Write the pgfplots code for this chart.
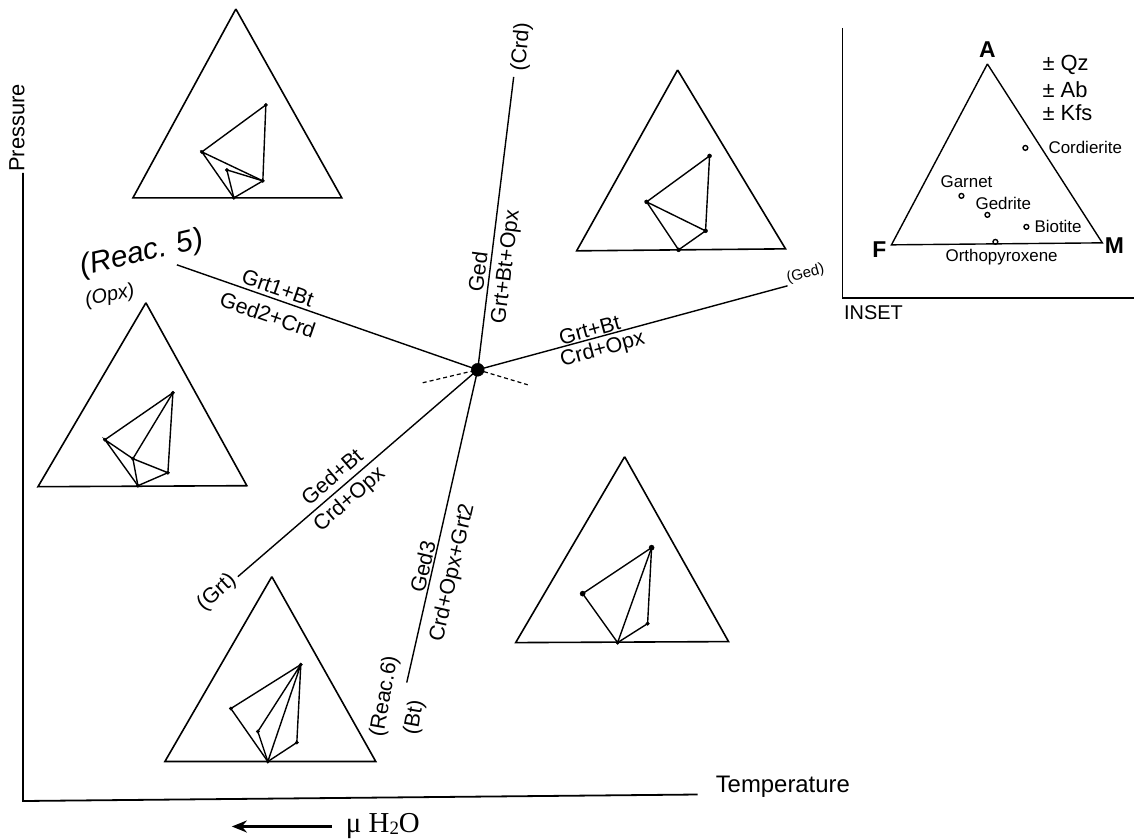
\documentclass[border=0pt]{standalone}
\usepackage{pgfplots}
\pgfplotsset{compat=1.18}
\usepackage{fontspec}
\setmainfont{Liberation Sans}
\newfontfamily\seriffont{Liberation Serif}
\usetikzlibrary{arrows.meta}
\newcommand{\fs}[1]{\fontsize{#1}{#1}\selectfont}
\begin{document}
\begin{tikzpicture}
\begin{axis}[x=1bp, y=1bp, y dir=reverse, xmin=0, xmax=1135, ymin=0, ymax=837,
  hide axis, clip=false, scale only axis]
\addplot[draw=none] coordinates {(0,0) (1135,837)};
% frame axes
\addplot[line width=1.8bp, black] coordinates {(23,173) (23,801.5) (698,795)};
\addplot[line width=1.4bp, black] coordinates {(843,28) (843,298) (1135,298)};
% triangle 1
\addplot[line width=1.6bp] coordinates {(236,9) (133,198) (342,198) (236,9)};
\addplot[line width=1.4bp] coordinates {(202,152) (266,105) (263,181) (202,152) (234,198) (263,181)};
\addplot[line width=1.4bp] coordinates {(263,181) (227,170) (234,198)};
\addplot[only marks, mark=*, mark size=1.7bp] coordinates {(202,152) (266,105) (263,181) (227,170) (234,198)};
% triangle 2
\addplot[line width=1.6bp] coordinates {(678,70) (577,251) (786,249) (678,70)};
\addplot[line width=1.4bp] coordinates {(647,202) (710,156) (706,231) (647,202) (679,250) (706,231)};
\addplot[only marks, mark=*, mark size=2bp] coordinates {(647,202) (710,156) (706,231) (679,250)};
% triangle 3
\addplot[line width=1.6bp] coordinates {(146,303) (38,487) (247,486) (146,303)};
\addplot[line width=1.4bp] coordinates {(105,440) (173,393) (168,473) (138,486) (105,440) (133,459) (168,473)};
\addplot[line width=1.4bp] coordinates {(173,393) (133,459) (138,486)};
\addplot[only marks, mark=*, mark size=1.7bp] coordinates {(105,440) (173,393) (168,473) (138,486) (133,459)};
% triangle 4
\addplot[line width=1.6bp] coordinates {(625,457) (516,643) (729,642) (625,457)};
\addplot[line width=1.4bp] coordinates {(583,594) (652,548) (648,624) (618,643) (583,594)};
\addplot[line width=1.4bp] coordinates {(652,548) (618,643)};
\addplot[only marks, mark=*, mark size=2.6bp] coordinates {(583,594) (652,548)};
\addplot[only marks, mark=*, mark size=1.8bp] coordinates {(648,624) (618,643)};
% triangle 5
\addplot[line width=1.6bp] coordinates {(272,577) (165,762) (376,762) (272,577)};
\addplot[line width=1.4bp] coordinates {(231,709) (301,665) (297,743) (268,762) (231,709)};
\addplot[line width=1.4bp] coordinates {(301,665) (258,732) (268,762) (301,665)};
\addplot[only marks, mark=*, mark size=1.7bp] coordinates {(231,709) (301,665) (297,743) (258,732) (268,762)};
% inset triangle
\addplot[line width=1.4bp] coordinates {(988,64) (892,245) (1103,243) (988,64)};
\addplot[only marks, mark=o, mark size=2.4bp, line width=1.4bp] coordinates {(1026,148) (962,196) (988,215) (1027,227) (996,242)};
% reaction lines
\addplot[line width=1.4bp] coordinates {(177,265) (478,370)};
\addplot[line width=1.4bp] coordinates {(514,77) (478,370)};
\addplot[line width=1.4bp] coordinates {(788,286) (478,370)};
\addplot[line width=1.4bp] coordinates {(238,577) (478,370)};
\addplot[line width=1.4bp] coordinates {(407,683) (478,370)};
\addplot[line width=1.2bp, dash pattern=on 4bp off 3bp] coordinates {(423,383) (478,370) (528,385)};
\addplot[only marks, mark=*, mark size=6.5bp] coordinates {(478,370)};
% arrow
\addplot[line width=2.4bp, -{Stealth[length=15bp,width=12bp]}] coordinates {(332,827) (232,827)};
\end{axis}
\begin{axis}[x=1bp, y=1bp, y dir=reverse, xmin=0, xmax=1135, ymin=0, ymax=837,
  hide axis, clip=false, scale only axis]
\addplot[draw=none] coordinates {(0,0) (1135,837)};
\node[inner sep=0pt, rotate=90, font=\fs{22}] at (axis cs:17,128) {Pressure};
\node[inner sep=0pt, anchor=west, font=\fs{24}] at (axis cs:716,787) {Temperature};
\node[inner sep=0pt, anchor=west, font=\seriffont\fs{29}] at (axis cs:346,827) {μ H\raisebox{-0.15ex}{\fs{19}2}O};
% reaction labels
\node[inner sep=0pt, rotate=13, font=\itshape\fs{30}] at (axis cs:142,254) {(Reac. 5)};
\node[inner sep=0pt, rotate=12, font=\itshape\fs{20}] at (axis cs:110,296) {(Opx)};
\node[inner sep=0pt, rotate=-19.2, font=\fs{21.5}] at (axis cs:278,288) {Grt1+Bt};
\node[inner sep=0pt, rotate=-19.2, font=\fs{21.5}] at (axis cs:268,315) {Ged2+Crd};
\node[inner sep=0pt, rotate=83, font=\fs{21.5}] at (axis cs:478,272) {Ged};
\node[inner sep=0pt, rotate=83, font=\fs{21.5}] at (axis cs:507,267) {Grt+Bt+Opx};
\node[inner sep=0pt, rotate=85, font=\fs{21.5}] at (axis cs:522,47) {(Crd)};
\node[inner sep=0pt, rotate=15.2, font=\fs{21.5}] at (axis cs:590,330) {Grt+Bt};
\node[inner sep=0pt, rotate=15.2, font=\fs{21.5}] at (axis cs:603,350) {Crd+Opx};
\node[inner sep=0pt, rotate=15.2, font=\fs{15}] at (axis cs:806,274) {(Ged)};
\node[inner sep=0pt, rotate=40.8, font=\fs{21.5}] at (axis cs:332,477) {Ged+Bt};
\node[inner sep=0pt, rotate=40.8, font=\fs{21.5}] at (axis cs:350,500) {Crd+Opx};
\node[inner sep=0pt, rotate=42, font=\fs{21.5}] at (axis cs:217,593) {(Grt)};
\node[inner sep=0pt, rotate=77.2, font=\fs{21.5}] at (axis cs:423,567) {Ged3};
\node[inner sep=0pt, rotate=77.2, font=\fs{21.5}] at (axis cs:453,573) {Crd+Opx+Grt2};
\node[inner sep=0pt, rotate=80, font=\fs{21.5}] at (axis cs:385,697) {(Reac.6)};
\node[inner sep=0pt, rotate=80, font=\fs{21.5}] at (axis cs:415,718) {(Bt)};
% inset labels
\node[inner sep=0pt, font=\bfseries\fs{23}] at (axis cs:988,50) {A};
\node[inner sep=0pt, font=\bfseries\fs{23}] at (axis cs:880,250) {F};
\node[inner sep=0pt, font=\bfseries\fs{23}] at (axis cs:1115,246) {M};
\node[inner sep=0pt, anchor=west, font=\fs{22}] at (axis cs:1043,65) {± Qz};
\node[inner sep=0pt, anchor=west, font=\fs{22}] at (axis cs:1043,90) {± Ab};
\node[inner sep=0pt, anchor=west, font=\fs{22}] at (axis cs:1043,113) {± Kfs};
\node[inner sep=0pt, anchor=west, font=\fs{17}] at (axis cs:1049,148) {Cordierite};
\node[inner sep=0pt, anchor=west, font=\fs{17}] at (axis cs:941,182) {Garnet};
\node[inner sep=0pt, anchor=west, font=\fs{17}] at (axis cs:976,204) {Gedrite};
\node[inner sep=0pt, anchor=west, font=\fs{17}] at (axis cs:1035,227) {Biotite};
\node[inner sep=0pt, anchor=west, font=\fs{17}] at (axis cs:946,257) {Orthopyroxene};
\node[inner sep=0pt, font=\fs{20}] at (axis cs:874,313) {INSET};
\end{axis}
\end{tikzpicture}
\end{document}
